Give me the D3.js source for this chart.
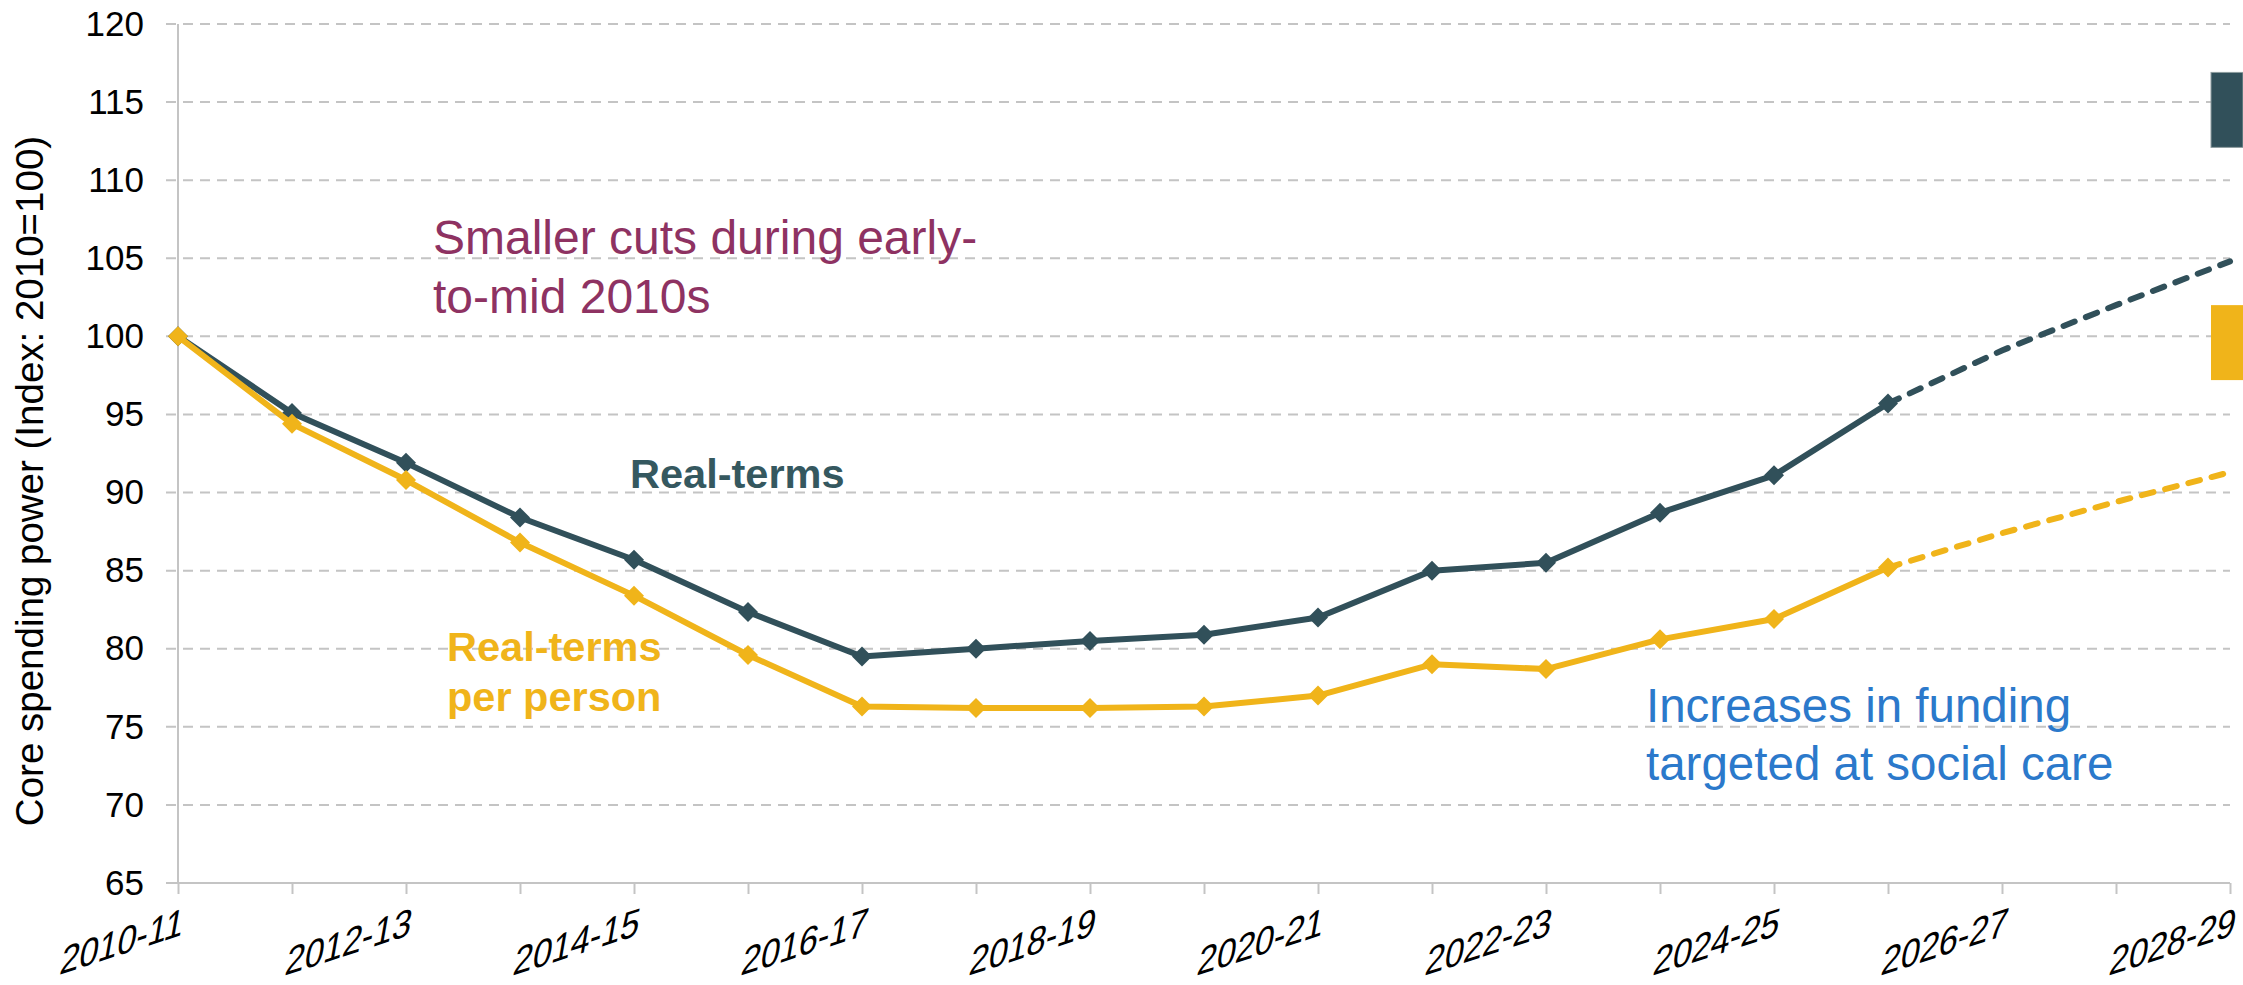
<!DOCTYPE html>
<html>
<head>
<meta charset="utf-8">
<script src="https://cdn.jsdelivr.net/npm/d3@7"></script>
<style>
  html, body { margin: 0; padding: 0; background: #ffffff; }
  svg { display: block; }
  text { font-family: "Liberation Sans", Arial, sans-serif; }
</style>
</head>
<body>
<svg id="chart" width="2243" height="985"></svg>
<script>
const categories = ["2010-11","2011-12","2012-13","2013-14","2014-15","2015-16","2016-17","2017-18","2018-19","2019-20","2020-21","2021-22","2022-23","2023-24","2024-25","2025-26","2026-27","2027-28","2028-29"];
const realTerms = [100, 95.1, 91.9, 88.4, 85.7, 82.35, 79.5, 80.0, 80.5, 80.9, 82.0, 85.0, 85.5, 88.7, 91.1, 95.7, 99.1, 102.0, 104.8];
const perPerson = [100, 94.4, 90.8, 86.8, 83.4, 79.6, 76.3, 76.2, 76.2, 76.3, 77.0, 79.0, 78.7, 80.6, 81.9, 85.2, 87.4, 89.4, 91.3];
const lastOutturn = "2025-26";
const rangeRealTerms = [112.1, 116.9];
const rangePerPerson = [97.2, 102.0];
const yTicks = [65, 70, 75, 80, 85, 90, 95, 100, 105, 110, 115, 120];
const xLabelCats = ["2010-11","2012-13","2014-15","2016-17","2018-19","2020-21","2022-23","2024-25","2026-27","2028-29"];
const yTitle = "Core spending power (Index: 2010=100)";
const noteCuts = ["Smaller cuts during early-", "to-mid 2010s"];
const noteIncreases = ["Increases in funding", "targeted at social care"];
const labelReal = ["Real-terms"];
const labelPerPerson = ["Real-terms", "per person"];

const C = { dark: "#31505A", yellow: "#F0B41A", grid: "#C4C4C4", maroon: "#8E3262", blue: "#2B79CB", darkText: "#35585F" };

const svg = d3.select("#chart");
const x = d3.scalePoint().domain(categories).range([178, 2230]);
const y = d3.scaleLinear().domain([65, 120]).range([883, 24]);

// gridlines
svg.append("g").selectAll("line").data(yTicks.filter(v => v !== 65)).join("line")
  .attr("x1", 166).attr("x2", 2230)
  .attr("y1", d => y(d)).attr("y2", d => y(d))
  .attr("stroke", C.grid).attr("stroke-width", 2).attr("stroke-dasharray", "10,7");

// y axis
const yAxis = svg.append("g").attr("transform", "translate(178,0)")
  .call(d3.axisLeft(y).tickValues(yTicks).tickSize(0).tickPadding(34));
yAxis.select(".domain").remove();
yAxis.selectAll("text").attr("font-size", 35).attr("fill", "#000")
  .attr("font-family", "'Liberation Sans', Arial, sans-serif");
svg.append("line").attr("x1", 178).attr("x2", 178).attr("y1", y(120)).attr("y2", y(65))
  .attr("stroke", C.grid).attr("stroke-width", 2);

// x axis
const xAxis = svg.append("g").attr("transform", `translate(0,${y(65)})`)
  .call(d3.axisBottom(x).tickSizeInner(11).tickSizeOuter(0)
    .tickFormat(d => xLabelCats.includes(d) ? d : ""));
xAxis.select(".domain").remove();
xAxis.selectAll(".tick line").attr("stroke", C.grid).attr("stroke-width", 2);
xAxis.selectAll("text")
  .attr("font-size", 36).attr("fill", "#000")
  .attr("font-family", "'Liberation Sans', Arial, sans-serif")
  .attr("text-anchor", "end").attr("x", null).attr("y", null).attr("dy", null)
  .attr("transform", "translate(3,52) rotate(-18) skewX(-28)");
svg.append("line").attr("x1", 166).attr("x2", 2230).attr("y1", y(65)).attr("y2", y(65))
  .attr("stroke", C.grid).attr("stroke-width", 2);

// range bars on the right
const lastX = x(categories[categories.length - 1]);
svg.append("rect").attr("x", lastX - 19).attr("width", 32)
  .attr("y", y(rangeRealTerms[1])).attr("height", y(rangeRealTerms[0]) - y(rangeRealTerms[1]))
  .attr("fill", C.dark).attr("stroke", "#8d9c9f").attr("stroke-width", 1);
svg.append("rect").attr("x", lastX - 19).attr("width", 32)
  .attr("y", y(rangePerPerson[1])).attr("height", y(rangePerPerson[0]) - y(rangePerPerson[1]))
  .attr("fill", C.yellow);

const cutIdx = categories.indexOf(lastOutturn);
const line = d3.line().x(d => x(d.c)).y(d => y(d.v));
const diamond = "M0,-10L10,0L0,10L-10,0Z";

function drawSeries(values, color) {
  const pts = categories.map((c, i) => ({ c, v: values[i] }));
  const g = svg.append("g");
  g.append("path").datum(pts.slice(cutIdx)).attr("d", line)
    .attr("fill", "none").attr("stroke", color).attr("stroke-width", 6)
    .attr("stroke-linecap", "round").attr("stroke-dasharray", "12,12");
  g.append("path").datum(pts.slice(0, cutIdx + 1)).attr("d", line)
    .attr("fill", "none").attr("stroke", color).attr("stroke-width", 6)
    .attr("stroke-linejoin", "round");
  g.selectAll(".m").data(pts.slice(0, cutIdx + 1)).join("path")
    .attr("d", diamond)
    .attr("transform", d => `translate(${x(d.c)},${y(d.v)})`)
    .attr("fill", color);
}
drawSeries(realTerms, C.dark);
drawSeries(perPerson, C.yellow);

// annotations
function multiline(lines, px, py, lh, size, color, weight) {
  const t = svg.append("text").attr("x", px).attr("y", py)
    .attr("font-size", size).attr("fill", color).attr("font-weight", weight || "normal");
  lines.forEach((s, i) => t.append("tspan").attr("x", px).attr("y", py + i * lh).text(s));
}
multiline(noteCuts, 433, 254, 59, 48, C.maroon);
multiline(noteIncreases, 1646, 722, 58, 47.5, C.blue);
multiline(labelReal, 630, 488, 50, 41.5, C.darkText, "bold");
multiline(labelPerPerson, 447, 661, 50, 41.5, C.yellow, "bold");

// y title
svg.append("text").attr("transform", "translate(43,481) rotate(-90)")
  .attr("text-anchor", "middle").attr("font-size", 38.5).attr("fill", "#000").text(yTitle);
</script>
</body>
</html>
